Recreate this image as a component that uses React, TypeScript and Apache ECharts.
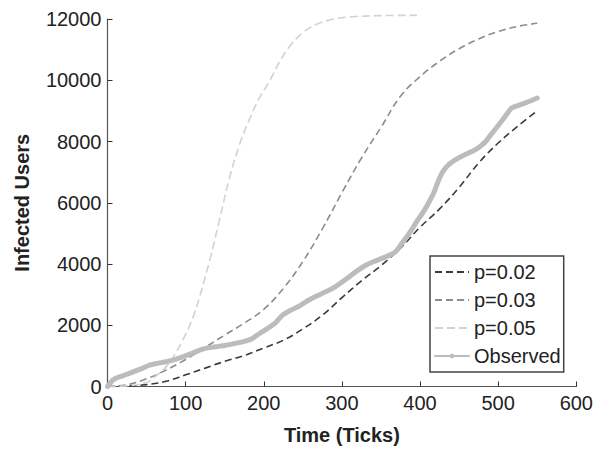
import React, { useEffect, useRef } from "react";
import * as echarts from "echarts";

const FONT = "'Liberation Sans', Arial, Helvetica, sans-serif";

const xTicks = { min: 0, max: 600, interval: 100 };
const yTicks = { min: 0, max: 12000, interval: 2000 };

const seriesNames = ["p=0.02", "p=0.03", "p=0.05", "Observed"];

const p002: [number, number][] = [
  [0, 0], [25, 15], [50, 60], [75, 170], [100, 380], [125, 600], [150, 820],
  [175, 1010], [200, 1260], [225, 1510], [250, 1880], [275, 2330], [300, 2900],
  [325, 3450], [350, 3950], [375, 4520], [400, 5200], [425, 5800], [450, 6500],
  [475, 7300], [500, 7950], [525, 8500], [550, 9000],
];

const p003: [number, number][] = [
  [0, 0], [25, 60], [50, 250], [75, 540], [100, 880], [125, 1280], [150, 1680],
  [175, 2070], [200, 2520], [225, 3200], [250, 4080], [275, 5150], [300, 6330],
  [325, 7460], [350, 8460], [375, 9480], [400, 10120], [425, 10620], [450, 11030],
  [475, 11350], [500, 11590], [525, 11760], [550, 11860],
];

const p005: [number, number][] = [
  [0, 0], [25, 20], [50, 130], [60, 300], [75, 650], [85, 1000], [100, 1700],
  [110, 2300], [118, 2940], [131, 4140], [143, 5400], [156, 6800], [169, 7900],
  [182, 8750], [195, 9450], [208, 10000], [220, 10600], [233, 11100], [250, 11550],
  [267, 11820], [290, 12000], [318, 12080], [350, 12110], [396, 12120],
];

const observed: [number, number][] = [
  [0, 0], [3, 105], [8, 230], [16, 320], [25, 400], [33, 480], [45, 600], [54, 700],
  [65, 760], [75, 810], [86, 880], [97, 975], [108, 1080], [118, 1190], [128, 1260],
  [139, 1300], [150, 1340], [162, 1400], [173, 1460], [185, 1560], [195, 1740],
  [205, 1900], [215, 2080], [224, 2330], [235, 2500], [245, 2620], [256, 2800],
  [267, 2950], [280, 3100], [292, 3265], [305, 3500], [318, 3750], [330, 3950],
  [341, 4080], [352, 4190], [362, 4300], [369, 4410], [376, 4650], [382, 4850],
  [390, 5150], [396, 5400], [403, 5650], [410, 5950], [418, 6350], [424, 6750],
  [430, 7050], [437, 7250], [445, 7400], [456, 7550], [467, 7680], [476, 7820],
  [484, 8000], [490, 8200], [496, 8390], [503, 8620], [509, 8820], [517, 9090],
  [526, 9180], [535, 9260], [542, 9330], [550, 9420],
];

export default function App() {
  const ref = useRef<HTMLDivElement>(null);
  useEffect(() => {
    if (!ref.current) return;
    const chart = echarts.init(ref.current, undefined, { renderer: "svg" });
    const axisCommon = {
      type: "value" as const,
      nameLocation: "middle" as const,
      nameTextStyle: { fontFamily: FONT, fontSize: 20, fontWeight: "bold", color: "#222" },
      axisLine: { show: true, lineStyle: { color: "#555", width: 1.2 } },
      axisTick: { show: true, inside: true, length: 5, lineStyle: { color: "#333", width: 1 } },
      axisLabel: {
        fontFamily: FONT, fontSize: 20, color: "#222", margin: 6,
        formatter: (v: number) => String(v),
      },
      splitLine: { show: false },
    };
    const noDot = { opacity: 0 };
    chart.setOption({
      animation: false,
      backgroundColor: "#fff",
      grid: { left: 107.5, right: 18, top: 19, bottom: 63.5, containLabel: false },
      xAxis: { ...axisCommon, ...xTicks, name: "Time (Ticks)", nameGap: 38 },
      yAxis: { ...axisCommon, ...yTicks, name: "Infected Users", nameGap: 76 },
      legend: {
        orient: "vertical",
        left: 430,
        top: 256,
        padding: [6, 3, 6, 4],
        itemGap: 8,
        itemWidth: 34,
        itemHeight: 6,
        borderColor: "#444",
        borderWidth: 1.5,
        borderRadius: 0,
        backgroundColor: "#fff",
        textStyle: { fontFamily: FONT, fontSize: 20, color: "#222", lineHeight: 20 },
        data: [
          { name: seriesNames[0], itemStyle: noDot },
          { name: seriesNames[1], itemStyle: noDot },
          { name: seriesNames[2], itemStyle: noDot },
          { name: seriesNames[3], lineStyle: { width: 2 } },
        ],
      },
      series: [
        {
          name: seriesNames[0], type: "line", data: p002, smooth: 0.4, symbol: "none",
          lineStyle: { color: "#3a3a3a", width: 1.6, type: [7, 4] },
          itemStyle: { color: "#3a3a3a" },
        },
        {
          name: seriesNames[1], type: "line", data: p003, smooth: 0.4, symbol: "none",
          lineStyle: { color: "#8c8c8c", width: 1.6, type: [7, 4] },
          itemStyle: { color: "#8c8c8c" },
        },
        {
          name: seriesNames[2], type: "line", data: p005, smooth: 0.4, symbol: "none",
          clip: false,
          lineStyle: { color: "#d2d2d2", width: 1.6, type: [8, 4] },
          itemStyle: { color: "#d2d2d2" },
        },
        {
          name: seriesNames[3], type: "line", data: observed, smooth: 0.2,
          symbol: "circle", symbolSize: 4, showSymbol: false,
          lineStyle: { color: "#bcbcc0", width: 5, cap: "round", join: "round" },
          itemStyle: { color: "#bcbcc0" },
        },
      ],
    });
    return () => chart.dispose();
  }, []);
  return (
    <div
      ref={ref}
      style={{ position: "absolute", left: 0, top: 0, width: 596, height: 450 }}
    />
  );
}
